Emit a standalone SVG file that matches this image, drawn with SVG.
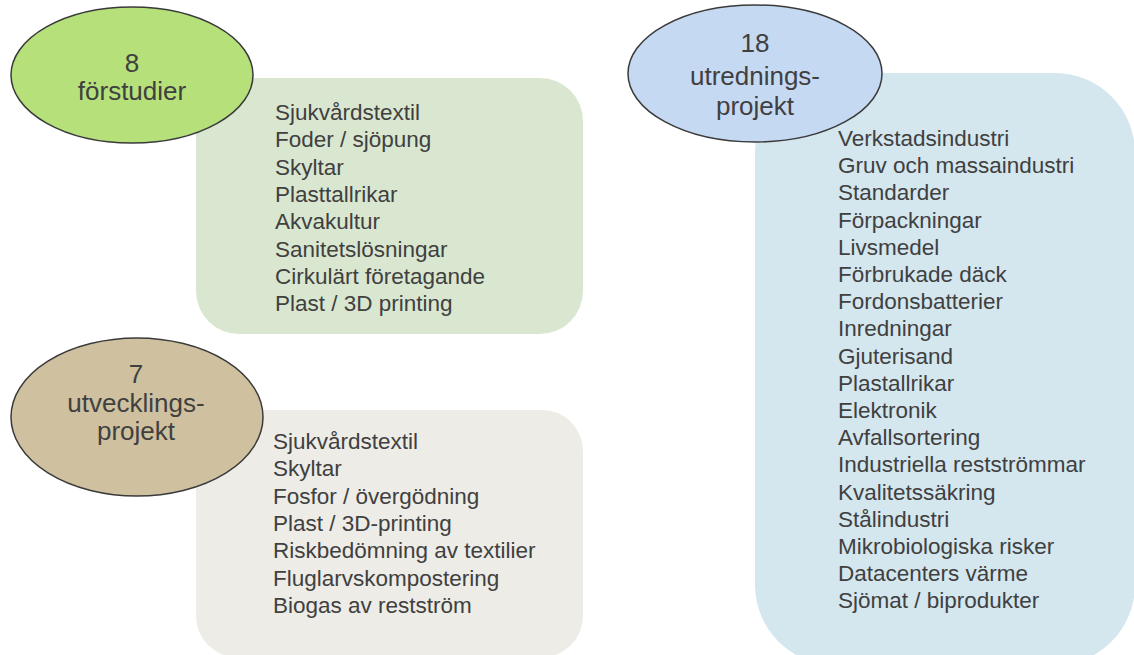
<svg xmlns="http://www.w3.org/2000/svg" width="1134" height="655" viewBox="0 0 1134 655">
<style>
.oval{stroke:#3a3a3a;stroke-width:1.5}
.t{font-family:"Liberation Sans",Arial,sans-serif;fill:#404040}
.head{font-size:26px;text-anchor:middle}
.list{font-size:22.5px}
</style>
<rect width="1134" height="655" fill="#ffffff"/>
<g id="connectors"></g>
<g id="forstudier-list">
<rect x="196" y="78" width="387" height="256" rx="43" ry="43" fill="#dae7d0"/>
<text class="t list" x="275">
<tspan x="275" y="120">Sjukvårdstextil</tspan>
<tspan x="275" y="147.3">Foder / sjöpung</tspan>
<tspan x="275" y="174.6">Skyltar</tspan>
<tspan x="275" y="201.9">Plasttallrikar</tspan>
<tspan x="275" y="229.2">Akvakultur</tspan>
<tspan x="275" y="256.5">Sanitetslösningar</tspan>
<tspan x="275" y="283.8">Cirkulärt företagande</tspan>
<tspan x="275" y="311.1">Plast / 3D printing</tspan>
</text>
</g>
<g id="forstudier">
<ellipse class="oval" cx="132" cy="75" rx="121" ry="68" fill="#b5e07a"/>
<text class="t head" x="132" y="72">8</text>
<text class="t head" x="132" y="100">förstudier</text>
</g>
<g id="utveckling-list">
<rect x="196" y="410" width="387" height="247" rx="41" ry="41" fill="#edece7"/>
<text class="t list">
<tspan x="273" y="449">Sjukvårdstextil</tspan>
<tspan x="273" y="476.3">Skyltar</tspan>
<tspan x="273" y="503.6">Fosfor / övergödning</tspan>
<tspan x="273" y="530.9">Plast / 3D-printing</tspan>
<tspan x="273" y="558.2">Riskbedömning av textilier</tspan>
<tspan x="273" y="585.5">Fluglarvskompostering</tspan>
<tspan x="273" y="612.8">Biogas av restström</tspan>
</text>
</g>
<g id="utveckling">
<ellipse class="oval" cx="137" cy="417" rx="126" ry="79" fill="#cfc19f"/>
<text class="t head" x="136" y="383">7</text>
<text class="t head" x="136" y="412">utvecklings-</text>
<text class="t head" x="136" y="440">projekt</text>
</g>
<g id="utredning-list">
<rect x="755" y="73" width="380" height="592" rx="80" ry="80" fill="#d4e6ee"/>
<text class="t list">
<tspan x="838" y="146">Verkstadsindustri</tspan>
<tspan x="838" y="173.2">Gruv och massaindustri</tspan>
<tspan x="838" y="200.4">Standarder</tspan>
<tspan x="838" y="227.6">Förpackningar</tspan>
<tspan x="838" y="254.8">Livsmedel</tspan>
<tspan x="838" y="282">Förbrukade däck</tspan>
<tspan x="838" y="309.2">Fordonsbatterier</tspan>
<tspan x="838" y="336.4">Inredningar</tspan>
<tspan x="838" y="363.6">Gjuterisand</tspan>
<tspan x="838" y="390.8">Plastallrikar</tspan>
<tspan x="838" y="418">Elektronik</tspan>
<tspan x="838" y="445.2">Avfallsortering</tspan>
<tspan x="838" y="472.4">Industriella restströmmar</tspan>
<tspan x="838" y="499.6">Kvalitetssäkring</tspan>
<tspan x="838" y="526.8">Stålindustri</tspan>
<tspan x="838" y="554">Mikrobiologiska risker</tspan>
<tspan x="838" y="581.2">Datacenters värme</tspan>
<tspan x="838" y="608.4">Sjömat / biprodukter</tspan>
</text>
</g>
<g id="utredning">
<ellipse class="oval" cx="755" cy="73.5" rx="127" ry="68.5" fill="#c6d9f3"/>
<text class="t head" x="755" y="52">18</text>
<text class="t head" x="755" y="85">utrednings-</text>
<text class="t head" x="755" y="115">projekt</text>
</g>
</svg>
